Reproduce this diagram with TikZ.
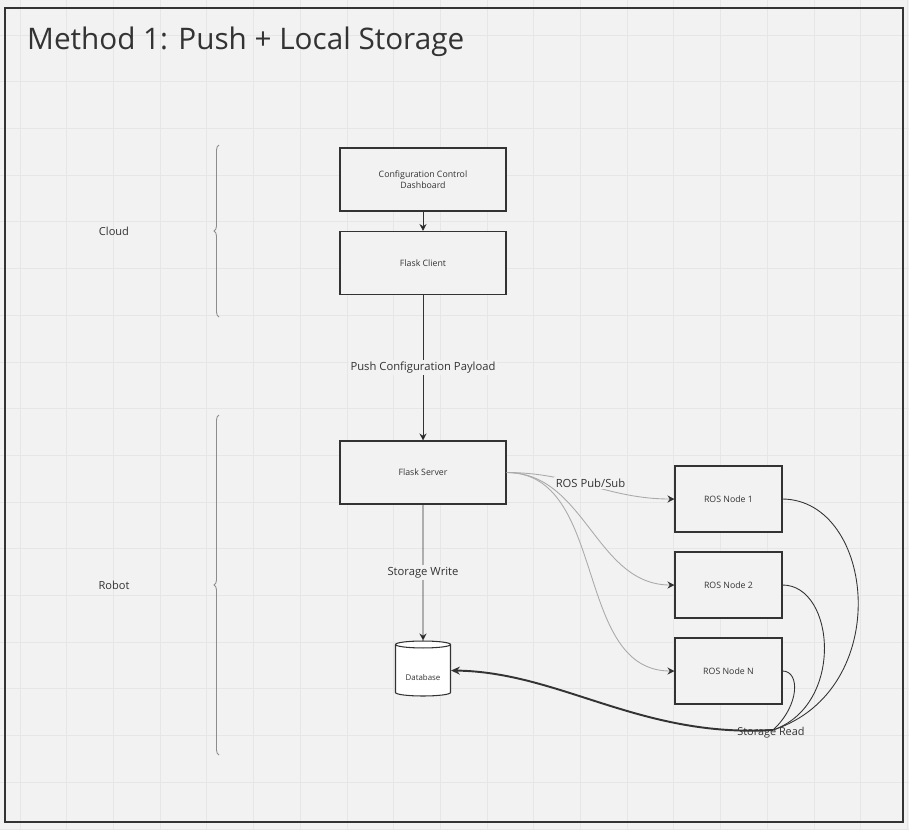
\documentclass[tikz,border=0pt]{standalone}
\usepackage{fontspec}
\setmainfont{Open Sans}
\usetikzlibrary{arrows.meta,shapes.geometric,decorations.pathreplacing}
\definecolor{paper}{HTML}{F2F2F2}
\definecolor{gridc}{HTML}{E6E6E6}
\definecolor{ink}{HTML}{333333}
\definecolor{pubsub}{HTML}{AAAAAA}

\begin{document}
\begin{tikzpicture}[x=0.02cm,y=-0.02cm,
  box/.style={draw=ink,line width=0.6pt,fill=paper,minimum width=3.32cm,minimum height=1.26cm,inner sep=1pt,align=center,text=ink,font=\fontsize{5}{6.5}\selectfont},
  rosbox/.style={box,minimum width=2.14cm,minimum height=1.32cm},
  dbase/.style={cylinder,shape border rotate=90,aspect=0.2,draw=ink,line width=0.6pt,fill=white,minimum width=1.1cm,minimum height=1.1cm,inner sep=0pt,text height=0.42cm,text depth=0.04cm,text=ink,font=\fontsize{4.5}{5.5}\selectfont},
  lbl/.style={fill=paper,inner sep=1pt,text=ink,font=\fontsize{6.4}{7.5}\selectfont},
  side/.style={text=ink,font=\fontsize{6.3}{7.5}\selectfont},
  conn/.style={draw=ink,line width=0.55pt,-{Stealth[length=4pt,width=4pt]}},
  sub/.style={draw=pubsub,line width=0.5pt,-{Stealth[length=4pt,width=4pt,color=ink]}},
  back/.style={draw=ink,line width=0.5pt},
  brc/.style={draw=black!45,line width=0.5pt,decorate,decoration={brace,amplitude=0.1cm}}]
\useasboundingbox[fill=paper] (0,0) rectangle (909,829);
% background grid
\foreach \k in {0,...,19} \draw[gridc,line width=0.4pt] ({20+46.7*\k},0) -- ({20+46.7*\k},829);
\foreach \k in {0,...,17} \draw[gridc,line width=0.4pt] (0,{35+46.7*\k}) -- (909,{35+46.7*\k});
\draw[ink,line width=0.6pt] (5,8) rectangle (903,822);
\node[anchor=west,text=ink,font=\fontsize{16.9}{20}\selectfont] (title) at (21,42) {Method 1: Push + Local Storage};

% cloud side
\node[box] (dash) at (423,179.5) {Configuration Control\\Dashboard};
\node[box] (client) at (423,263) {Flask Client};
% robot side
\node[box] (server) at (423,472.5) {Flask Server};
\node[dbase] (db) at (423,670.5) {Database};
\node[rosbox] (ros1) at (728.5,499) {ROS Node 1};
\node[rosbox] (ros2) at (728.5,585) {ROS Node 2};
\node[rosbox] (rosn) at (728.5,671) {ROS Node N};
\coordinate (sr) at (773,730);

% groups
\draw[brc] (219,317) -- (219,145);
\draw[brc] (219,755) -- (219,415);
\node[side] (cloud) at (114,231) {Cloud};
\node[side] (robot) at (114,585) {Robot};

\path[conn] (dash) edge (client);
\path[conn] (client) edge node[lbl] {Push Configuration Payload} (server);
\path[conn] (server) edge node[lbl] {Storage Write} (db);

\draw[sub] (server.east) to[out=0,in=180] node[lbl,pos=0.5,yshift=0.05cm] {ROS Pub/Sub} (ros1.west);
\draw[sub] (server.east) to[out=0,in=180] (ros2.west);
\draw[sub] (server.east) to[out=0,in=180] (rosn.west);

\draw[back] (ros1.east) .. controls (875,500) and (895,690) .. (sr);
\draw[back] (ros2.east) .. controls (835,585) and (845,705) .. (sr);
\draw[back] (rosn.east) .. controls (800,671) and (800,705) .. (sr);
\draw[draw=ink,line width=1.1pt,-{Stealth[length=5pt,width=4.5pt]}] (sr) .. controls (640,738) and (560,672) .. (db.east);
\node[text=ink,font=\fontsize{6.2}{7}\selectfont] (read) at (771,733) {Storage Read};
\end{tikzpicture}
\end{document}
